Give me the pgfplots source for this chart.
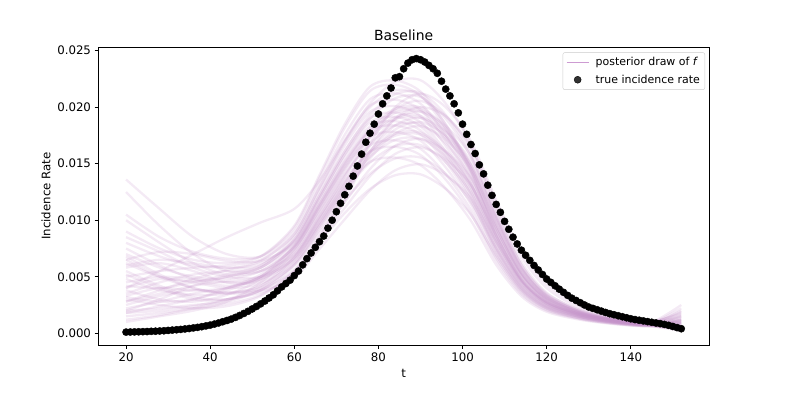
\documentclass[border=0pt]{standalone}
\usepackage{pgfplots}
\pgfplotsset{compat=1.18}
\usepackage{pgfplotstable}
\usepackage{fontspec}
\setmainfont{DejaVu Sans}
\definecolor{postc}{RGB}{195,145,200}
\definecolor{posleg}{RGB}{205,155,210}
\definecolor{leggray}{RGB}{204,204,204}

\pgfplotstableread{
t v
20 0.00010
21 0.00011
22 0.00012
23 0.00013
24 0.00014
25 0.00015
26 0.00017
27 0.00018
28 0.00020
29 0.00022
30 0.00025
31 0.00028
32 0.00031
33 0.00034
34 0.00038
35 0.00042
36 0.00047
37 0.00052
38 0.00058
39 0.00065
40 0.00072
41 0.00081
42 0.00091
43 0.00102
44 0.00113
45 0.00125
46 0.00140
47 0.00157
48 0.00175
49 0.00194
50 0.00215
51 0.00237
52 0.00260
53 0.00285
54 0.00312
55 0.00340
56 0.00375
57 0.00410
58 0.00440
59 0.00470
60 0.00510
61 0.00550
62 0.00605
63 0.00660
64 0.00710
65 0.00760
66 0.00810
67 0.00860
68 0.00930
69 0.01000
70 0.01075
71 0.01150
72 0.01225
73 0.01300
74 0.01390
75 0.01480
76 0.01585
77 0.01690
78 0.01770
79 0.01850
80 0.01940
81 0.02030
82 0.02100
83 0.02170
84 0.02260
85 0.02270
86 0.02340
87 0.02390
88 0.02420
89 0.02430
90 0.02420
91 0.02400
92 0.02370
93 0.02340
94 0.02300
95 0.02230
96 0.02160
97 0.02100
98 0.02030
99 0.01950
100 0.01850
101 0.01760
102 0.01670
103 0.01590
104 0.01490
105 0.01410
106 0.01310
107 0.01220
108 0.01140
109 0.01070
110 0.00990
111 0.00920
112 0.00850
113 0.00790
114 0.00735
115 0.00690
116 0.00645
117 0.00600
118 0.00560
119 0.00520
120 0.00480
121 0.00450
122 0.00420
123 0.00390
124 0.00362
125 0.00335
126 0.00310
127 0.00290
128 0.00270
129 0.00250
130 0.00232
131 0.00220
132 0.00208
133 0.00196
134 0.00184
135 0.00173
136 0.00164
137 0.00155
138 0.00146
139 0.00137
140 0.00128
141 0.00121
142 0.00115
143 0.00109
144 0.00103
145 0.00097
146 0.00091
147 0.00085
148 0.00078
149 0.00070
150 0.00060
151 0.00050
152 0.00040
}\truedata

\begin{document}
\begin{tikzpicture}
\path[use as bounding box] (0,0) rectangle (789bp,395bp);
\begin{axis}[
  at={(98.3bp,50bp)}, anchor=south west,
  scale only axis, width=610.7bp, height=297.7bp,
  xmin=13.4, xmax=158.6, ymin=-0.00104, ymax=0.0253,
  xtick={20,40,60,80,100,120,140},
  ytick={0,0.005,0.01,0.015,0.02,0.025},
  scaled y ticks=false,
  yticklabel style={/pgf/number format/.cd, fixed, fixed zerofill, precision=3},
  /pgf/number format/assume math mode=true,
  tick label style={font=\fontsize{11.8}{14}\selectfont},
  every axis title shift=0pt,
  title={Baseline},
  title style={font=\fontsize{14}{16}\selectfont, at={(axis description cs:0.5,1.0413)}, anchor=center},
  xlabel={t},
  xlabel style={font=\fontsize{11.8}{14}\selectfont, at={(axis description cs:0.5,-0.094)}, anchor=center},
  ylabel={Incidence Rate},
  ylabel style={font=\fontsize{11.8}{14}\selectfont, at={(axis description cs:-0.0856,0.5)}, anchor=center},
  tick align=outside, tick pos=left,
  major tick length=3.8bp,
  every tick/.style={black, line width=0.88bp},
  axis line style={line width=0.88bp},
  legend style={at={(axis description cs:0.9935,0.983)}, anchor=north east,
    draw=leggray, rounded corners=2bp, fill=white, fill opacity=0.8, text opacity=1,
    font=\fontsize{11}{13}\selectfont, inner sep=3bp, row sep=3.5bp},
  legend cell align=left,
  postline/.style={smooth, color=postc, opacity=0.19, line width=2.3bp, forget plot, mark=none},
]
\addlegendimage{legend image code/.code={\draw[posleg, line width=1.6bp] (0bp,0bp) -- (22bp,0bp); \path[draw=none, fill=none] (0bp,0bp) -- (27bp,0bp);}}
\addlegendentry{posterior draw of \textit{f}}
\addlegendimage{legend image code/.code={\fill[black] (11bp,0bp) circle (3.5bp); \path[draw=none, fill=none] (0bp,0bp) -- (27bp,0bp);}}
\addlegendentry{true incidence rate}

\addplot[only marks, mark=*, mark size=3.6bp, mark options={fill=black, draw=none}, forget plot] table[x=t, y=v] {\truedata};

\addplot[postline] coordinates {(20,0.0030)(28,0.0025)(36,0.0022)(44,0.0024)(52,0.0033)(60,0.00547)(66,0.00806)(72,0.01064)(78,0.01277)(84,0.01398)(90,0.01406)(96,0.01277)(102,0.01049)(108,0.00684)(114,0.0038)(120,0.0022)(128,0.00129)(136,0.00084)(144,0.00061)(152,0.0004)};
\addplot[postline] coordinates {(20,0.0065)(28,0.0050)(36,0.0040)(44,0.0035)(52,0.0038)(60,0.0049)(66,0.00746)(72,0.01008)(78,0.01263)(84,0.01442)(90,0.01495)(96,0.01398)(102,0.01192)(108,0.00806)(114,0.0046)(120,0.0026)(128,0.00147)(136,0.00093)(144,0.00064)(152,0.0010)};
\addplot[postline] coordinates {(20,0.0015)(28,0.0018)(36,0.0022)(44,0.0030)(52,0.0040)(60,0.00605)(66,0.0089)(72,0.01176)(78,0.01411)(84,0.01546)(90,0.01554)(96,0.01411)(102,0.01159)(108,0.00756)(114,0.0042)(120,0.00244)(128,0.00143)(136,0.00092)(144,0.00067)(152,0.0006)};
\addplot[postline] coordinates {(20,0.0125)(28,0.0095)(36,0.0070)(44,0.0055)(52,0.0055)(60,0.00701)(66,0.01033)(72,0.01364)(78,0.01608)(84,0.01649)(90,0.01577)(96,0.01359)(102,0.01056)(108,0.00642)(114,0.00348)(120,0.00202)(128,0.00126)(136,0.00086)(144,0.00066)(152,0.0012)};
\addplot[postline] coordinates {(20,0.0045)(28,0.0050)(36,0.0048)(44,0.0045)(52,0.0048)(60,0.00648)(66,0.00954)(72,0.0126)(78,0.01512)(84,0.01656)(90,0.01665)(96,0.01512)(102,0.01242)(108,0.0081)(114,0.0045)(120,0.00261)(128,0.00153)(136,0.00099)(144,0.00072)(152,0.0003)};
\addplot[postline] coordinates {(20,0.0020)(28,0.0022)(36,0.0025)(44,0.0028)(52,0.0038)(60,0.00563)(66,0.00858)(72,0.01159)(78,0.01453)(84,0.01659)(90,0.01719)(96,0.01607)(102,0.01371)(108,0.00927)(114,0.00529)(120,0.00299)(128,0.00169)(136,0.00107)(144,0.00074)(152,0.0015)};
\addplot[postline] coordinates {(20,0.0070)(28,0.0058)(36,0.0050)(44,0.0048)(52,0.0055)(60,0.00758)(66,0.01116)(72,0.01474)(78,0.01737)(84,0.01781)(90,0.01704)(96,0.01468)(102,0.01141)(108,0.00694)(114,0.00376)(120,0.00218)(128,0.00136)(136,0.00093)(144,0.00071)(152,0.0007)};
\addplot[postline] coordinates {(20,0.0028)(28,0.0035)(36,0.0042)(44,0.0046)(52,0.0050)(60,0.00691)(66,0.01018)(72,0.01344)(78,0.01613)(84,0.01766)(90,0.01776)(96,0.01613)(102,0.01325)(108,0.00864)(114,0.0048)(120,0.00278)(128,0.00163)(136,0.00106)(144,0.00077)(152,0.0020)};
\addplot[postline] coordinates {(20,0.0055)(28,0.0042)(36,0.0032)(44,0.0030)(52,0.0038)(60,0.0060)(66,0.00914)(72,0.01235)(78,0.01547)(84,0.01767)(90,0.01832)(96,0.01712)(102,0.0146)(108,0.00988)(114,0.00564)(120,0.00319)(128,0.0018)(136,0.00114)(144,0.00078)(152,0.0005)};
\addplot[postline] coordinates {(20,0.0010)(28,0.0015)(36,0.0020)(44,0.0028)(52,0.0045)(60,0.0072)(66,0.0106)(72,0.0140)(78,0.0168)(84,0.0184)(90,0.0185)(96,0.0168)(102,0.0138)(108,0.0090)(114,0.0050)(120,0.0029)(128,0.0017)(136,0.0011)(144,0.0008)(152,0.0009)};
\addplot[postline] coordinates {(20,0.0080)(28,0.0068)(36,0.0060)(44,0.0058)(52,0.0062)(60,0.00814)(66,0.01199)(72,0.01584)(78,0.01866)(84,0.01914)(90,0.01831)(96,0.01578)(102,0.01226)(108,0.00745)(114,0.00404)(120,0.00234)(128,0.00146)(136,0.0010)(144,0.00077)(152,0.0004)};
\addplot[postline] coordinates {(20,0.0038)(28,0.0030)(36,0.0028)(44,0.0034)(52,0.0048)(60,0.00742)(66,0.01092)(72,0.01442)(78,0.0173)(84,0.01895)(90,0.01906)(96,0.0173)(102,0.01421)(108,0.00927)(114,0.00515)(120,0.00299)(128,0.00175)(136,0.00113)(144,0.00082)(152,0.0013)};
\addplot[postline] coordinates {(20,0.0025)(28,0.0033)(36,0.0038)(44,0.0036)(52,0.0042)(60,0.00643)(66,0.0098)(72,0.01323)(78,0.01658)(84,0.01893)(90,0.01962)(96,0.01834)(102,0.01565)(108,0.01058)(114,0.00604)(120,0.00341)(128,0.00193)(136,0.00122)(144,0.00084)(152,0.0025)};
\addplot[postline] coordinates {(20,0.0060)(28,0.0065)(36,0.0062)(44,0.0058)(52,0.0060)(60,0.00854)(66,0.01258)(72,0.01662)(78,0.01959)(84,0.02009)(90,0.01922)(96,0.01656)(102,0.01287)(108,0.00782)(114,0.00424)(120,0.00246)(128,0.00154)(136,0.00105)(144,0.00081)(152,0.0006)};
\addplot[postline] coordinates {(20,0.0018)(28,0.0024)(36,0.0030)(44,0.0038)(52,0.0050)(60,0.00778)(66,0.01145)(72,0.01512)(78,0.01814)(84,0.01987)(90,0.01998)(96,0.01814)(102,0.0149)(108,0.00972)(114,0.0054)(120,0.00313)(128,0.00184)(136,0.00119)(144,0.00086)(152,0.0011)};
\addplot[postline] coordinates {(20,0.0048)(28,0.0038)(36,0.0034)(44,0.0035)(52,0.0042)(60,0.00673)(66,0.01026)(72,0.01386)(78,0.01737)(84,0.01983)(90,0.02056)(96,0.01922)(102,0.01639)(108,0.01109)(114,0.00633)(120,0.00358)(128,0.00202)(136,0.00128)(144,0.00088)(152,0.0018)};
\addplot[postline] coordinates {(20,0.0136)(28,0.0110)(36,0.0085)(44,0.0070)(52,0.0068)(60,0.00903)(66,0.01329)(72,0.01756)(78,0.0207)(84,0.02122)(90,0.02031)(96,0.01749)(102,0.0136)(108,0.00827)(114,0.00448)(120,0.0026)(128,0.00162)(136,0.00111)(144,0.00085)(152,0.0008)};
\addplot[postline] coordinates {(20,0.0035)(28,0.0045)(36,0.0052)(44,0.0055)(52,0.0058)(60,0.00828)(66,0.01219)(72,0.0161)(78,0.01932)(84,0.02116)(90,0.02128)(96,0.01932)(102,0.01587)(108,0.01035)(114,0.00575)(120,0.00334)(128,0.00196)(136,0.00127)(144,0.00092)(152,0.0003)};
\addplot[postline] coordinates {(20,0.0090)(28,0.0075)(36,0.0065)(44,0.0062)(52,0.0068)(60,0.00951)(66,0.01401)(72,0.0185)(78,0.02181)(84,0.02236)(90,0.02139)(96,0.01843)(102,0.01433)(108,0.00871)(114,0.00472)(120,0.00274)(128,0.00171)(136,0.00117)(144,0.0009)(152,0.0010)};
\addplot[postline] coordinates {(20,0.0050)(28,0.0055)(36,0.0058)(44,0.0060)(52,0.0065)(60,0.00871)(66,0.01283)(72,0.01694)(78,0.02033)(84,0.02226)(90,0.02239)(96,0.02033)(102,0.0167)(108,0.01089)(114,0.00605)(120,0.00351)(128,0.00206)(136,0.00133)(144,0.00097)(152,0.0014)};
\addplot[postline] coordinates {(20,0.0012)(28,0.0016)(36,0.0022)(44,0.0026)(52,0.0034)(60,0.00539)(66,0.00821)(72,0.01109)(78,0.0139)(84,0.01587)(90,0.01645)(96,0.01537)(102,0.01311)(108,0.00887)(114,0.00506)(120,0.00286)(128,0.00162)(136,0.00102)(144,0.0007)(152,0.0002)};
\addplot[postline] coordinates {(20,0.0075)(28,0.0060)(36,0.0048)(44,0.0042)(52,0.0048)(60,0.00684)(66,0.01007)(72,0.0133)(78,0.01596)(84,0.01748)(90,0.01758)(96,0.01596)(102,0.01311)(108,0.00855)(114,0.00475)(120,0.00276)(128,0.00162)(136,0.00105)(144,0.00076)(152,0.0008)};
\addplot[postline] coordinates {(20,0.0040)(28,0.0048)(36,0.0045)(44,0.0040)(52,0.0044)(60,0.00624)(66,0.00952)(72,0.01285)(78,0.01611)(84,0.01839)(90,0.01906)(96,0.01782)(102,0.0152)(108,0.01028)(114,0.00587)(120,0.00332)(128,0.00188)(136,0.00118)(144,0.00082)(152,0.0022)};
\addplot[postline] coordinates {(20,0.0022)(28,0.0028)(36,0.0035)(44,0.0040)(52,0.0050)(60,0.00749)(66,0.01102)(72,0.01456)(78,0.01747)(84,0.01914)(90,0.01924)(96,0.01747)(102,0.01435)(108,0.00936)(114,0.0052)(120,0.00302)(128,0.00177)(136,0.00114)(144,0.00083)(152,0.0005)};
\addplot[postline] coordinates {(20,0.0065)(28,0.0072)(36,0.0070)(44,0.0064)(52,0.0064)(60,0.00798)(66,0.01175)(72,0.01552)(78,0.0183)(84,0.01876)(90,0.01795)(96,0.01546)(102,0.01202)(108,0.00731)(114,0.00396)(120,0.0023)(128,0.00144)(136,0.00098)(144,0.00075)(152,0.0016)};
\addplot[postline] coordinates {(20,0.0032)(28,0.0028)(36,0.0030)(44,0.0040)(52,0.0052)(60,0.0077)(66,0.01134)(72,0.01498)(78,0.01798)(84,0.01969)(90,0.0198)(96,0.01798)(102,0.01477)(108,0.00963)(114,0.00535)(120,0.0031)(128,0.00182)(136,0.00118)(144,0.00086)(152,0.0007)};
\addplot[postline] coordinates {(20,0.0040)(28,0.0055)(36,0.0070)(44,0.0085)(52,0.0098)(60,0.0110)(66,0.0135)(72,0.0170)(78,0.0200)(84,0.0215)(90,0.0210)(96,0.0185)(102,0.0145)(108,0.0090)(114,0.0048)(120,0.0028)(128,0.0017)(136,0.0012)(144,0.0009)(152,0.0009)};
\addplot[postline] coordinates {(20,0.0085)(28,0.0072)(36,0.0058)(44,0.0050)(52,0.0050)(60,0.00661)(66,0.00973)(72,0.01286)(78,0.01515)(84,0.01554)(90,0.01487)(96,0.01281)(102,0.00995)(108,0.00605)(114,0.00328)(120,0.0019)(128,0.00119)(136,0.00081)(144,0.00062)(152,0.0009)};
\addplot[postline] coordinates {(20,0.0058)(28,0.0062)(36,0.0055)(44,0.0045)(52,0.0046)(60,0.0067)(66,0.00986)(72,0.01302)(78,0.01562)(84,0.01711)(90,0.01721)(96,0.01562)(102,0.01283)(108,0.00837)(114,0.00465)(120,0.0027)(128,0.00158)(136,0.00102)(144,0.00074)(152,0.0012)};
\addplot[postline] coordinates {(20,0.0020)(28,0.0030)(36,0.0042)(44,0.0050)(52,0.0058)(60,0.00782)(66,0.01151)(72,0.01521)(78,0.01793)(84,0.01838)(90,0.01759)(96,0.01515)(102,0.01178)(108,0.00716)(114,0.00388)(120,0.00225)(128,0.00141)(136,0.00096)(144,0.00074)(152,0.0003)};
\addplot[postline] coordinates {(20,0.0068)(28,0.0052)(36,0.0040)(44,0.0036)(52,0.0040)(60,0.00612)(66,0.00933)(72,0.0126)(78,0.01579)(84,0.01803)(90,0.01869)(96,0.01747)(102,0.0149)(108,0.01008)(114,0.00575)(120,0.00325)(128,0.00184)(136,0.00116)(144,0.0008)(152,0.0019)};
\addplot[postline] coordinates {(20,0.0042)(28,0.0040)(36,0.0045)(44,0.0052)(52,0.0060)(60,0.0083)(66,0.01223)(72,0.01615)(78,0.01903)(84,0.01952)(90,0.01867)(96,0.01609)(102,0.0125)(108,0.0076)(114,0.00412)(120,0.00239)(128,0.00149)(136,0.00102)(144,0.00078)(152,0.0006)};
\addplot[postline] coordinates {(20,0.0100)(28,0.0080)(36,0.0062)(44,0.0052)(52,0.0055)(60,0.00763)(66,0.01124)(72,0.01484)(78,0.01781)(84,0.0195)(90,0.01961)(96,0.01781)(102,0.01463)(108,0.00954)(114,0.0053)(120,0.00307)(128,0.0018)(136,0.00117)(144,0.00085)(152,0.0010)};
\addplot[postline] coordinates {(20,0.0028)(28,0.0038)(36,0.0048)(44,0.0056)(52,0.0064)(60,0.00879)(66,0.01294)(72,0.01709)(78,0.02014)(84,0.02066)(90,0.01976)(96,0.01703)(102,0.01323)(108,0.00804)(114,0.00436)(120,0.00253)(128,0.00158)(136,0.00108)(144,0.00083)(152,0.0015)};
\addplot[postline] coordinates {(20,0.0062)(28,0.0050)(36,0.0046)(44,0.0050)(52,0.0058)(60,0.00814)(66,0.01198)(72,0.01582)(78,0.01898)(84,0.02079)(90,0.02091)(96,0.01898)(102,0.01559)(108,0.01017)(114,0.00565)(120,0.00328)(128,0.00192)(136,0.00124)(144,0.0009)(152,0.0005)};
\addplot[postline] coordinates {(20,0.0033)(28,0.0040)(36,0.0038)(44,0.0040)(52,0.0050)(60,0.00725)(66,0.01068)(72,0.01411)(78,0.01663)(84,0.01706)(90,0.01632)(96,0.01406)(102,0.01093)(108,0.00664)(114,0.0036)(120,0.00209)(128,0.00131)(136,0.00089)(144,0.00068)(152,0.0004)};
\addplot[postline] coordinates {(20,0.0105)(28,0.0085)(36,0.0072)(44,0.0066)(52,0.0068)(60,0.00935)(66,0.01377)(72,0.01819)(78,0.02144)(84,0.02198)(90,0.02103)(96,0.01812)(102,0.01408)(108,0.00856)(114,0.00464)(120,0.00269)(128,0.00168)(136,0.00115)(144,0.00088)(152,0.0011)};
\addplot[postline] coordinates {(20,0.0018)(28,0.0020)(36,0.0024)(44,0.0030)(52,0.0036)(60,0.0050)(66,0.0080)(72,0.0118)(78,0.0160)(84,0.0190)(90,0.0200)(96,0.0192)(102,0.0165)(108,0.0115)(114,0.0068)(120,0.0040)(128,0.0022)(136,0.0013)(144,0.0009)(152,0.0012)};
\addplot[postline] coordinates {(20,0.0052)(28,0.0040)(36,0.0030)(44,0.0030)(52,0.0038)(60,0.0055)(66,0.0085)(72,0.0125)(78,0.0168)(84,0.0200)(90,0.0212)(96,0.0200)(102,0.0170)(108,0.0118)(114,0.0072)(120,0.0043)(128,0.0024)(136,0.0014)(144,0.0010)(152,0.0017)};
\end{axis}
\end{tikzpicture}
\end{document}
